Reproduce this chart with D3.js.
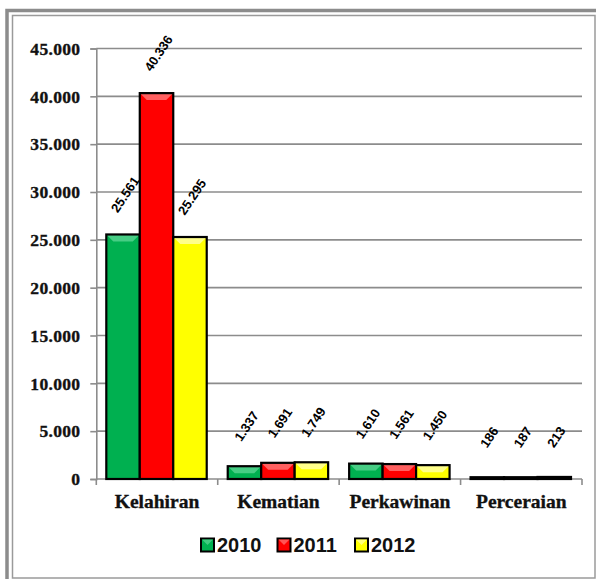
<!DOCTYPE html>
<html><head><meta charset="utf-8">
<script src="https://cdn.jsdelivr.net/npm/d3@7"></script>
<style>body{margin:0;background:#fff}svg{display:block}</style>
</head><body>
<svg id="c" width="596" height="579"></svg>
<script>
const categories = ["Kelahiran","Kematian","Perkawinan","Perceraian"];
const years = ["2010","2011","2012"];
const values2010 = [25561,1337,1610,186];
const values2011 = [40336,1691,1561,187];
const values2012 = [25295,1749,1450,213];
const yTicks = [0,5000,10000,15000,20000,25000,30000,35000,40000,45000];
const colors = ["#00B050","#FF0000","#FFFF00"];
const bevel = ["#4FD08A","#FF6A6A","#FFFF9A"];

const series = [values2010, values2011, values2012];
const svg = d3.select("#c");
const fmt = v => d3.format(",")(v).replace(/,/g,".");

// frame
svg.append("rect").attr("x",7).attr("y",10.5).attr("width",600).attr("height",600)
  .attr("fill","none").attr("stroke","#8c8c8c").attr("stroke-width",3.5);
svg.append("rect").attr("x",12.5).attr("y",15.5).attr("width",582.5).attr("height",562.5)
  .attr("fill","none").attr("stroke","#9a9a9a").attr("stroke-width",1.5);

const L=96.3, R=582, T=48.5, B=479;
const x = d3.scaleBand().domain(categories).range([L,R]).padding(0);
const xs = d3.scaleBand().domain(years).range([10, x.bandwidth()-11]).padding(0);
const y = d3.scaleLinear().domain([0,45000]).range([B,T]);

// gridlines
svg.append("g").selectAll("line").data(yTicks.filter(d=>d>0)).join("line")
  .attr("x1",L).attr("x2",R).attr("y1",d=>y(d)).attr("y2",d=>y(d))
  .attr("stroke","#8c8c8c").attr("stroke-width",1.6);

// y axis
const ya = svg.append("g").attr("transform",`translate(${L},0)`)
  .call(d3.axisLeft(y).tickValues(yTicks).tickSize(6).tickPadding(10).tickFormat(fmt));
ya.select(".domain").attr("stroke","#8c8c8c").attr("stroke-width",1.6);
ya.selectAll(".tick line").attr("stroke","#8c8c8c").attr("stroke-width",1.6);
ya.selectAll(".tick text").attr("font-family","'Liberation Serif',serif").attr("font-weight","bold")
  .attr("font-size","17.5px").attr("fill","#111").attr("dy","0.33em").attr("letter-spacing","0.3px")
  .attr("stroke","#111").attr("stroke-width",0.35);

// x axis
const xa = svg.append("g").attr("transform",`translate(0,${B})`)
  .call(d3.axisBottom(x).tickSize(0).tickPadding(0));
xa.select(".domain").remove();
svg.append("line").attr("x1",L).attr("x2",R).attr("y1",B).attr("y2",B)
  .attr("stroke","#8c8c8c").attr("stroke-width",1.6);
svg.append("g").selectAll("line").data(categories).join("line")
  .attr("x1",d=>x(d)).attr("x2",d=>x(d)).attr("y1",B).attr("y2",B+6)
  .attr("stroke","#8c8c8c").attr("stroke-width",1.6);
svg.append("line").attr("x1",R).attr("x2",R).attr("y1",B).attr("y2",B+6)
  .attr("stroke","#8c8c8c").attr("stroke-width",1.6);
xa.selectAll(".tick text").attr("y",29).attr("dy",0)
  .attr("font-family","'Liberation Serif',serif").attr("font-weight","bold")
  .attr("font-size","19.5px").attr("fill","#111").attr("stroke","#111").attr("stroke-width",0.35);

// bars
const gb = svg.append("g");
series.forEach((vals,si)=>{
  vals.forEach((v,ci)=>{
    const x0 = x(categories[ci]) + xs(years[si]);
    const w = xs.bandwidth();
    const top = y(v);
    const h = B - top;
    const g = gb.append("g");
    g.append("rect").attr("x",x0).attr("y",top).attr("width",w).attr("height",h).attr("fill",colors[si]);
    const bh = Math.min(7, h);
    if (h > 2) {
      g.append("path").attr("d",`M${x0},${top}L${x0+w},${top}L${x0+w-bh},${top+bh}L${x0+bh},${top+bh}Z`)
        .attr("fill",bevel[si]).attr("opacity",0.9);
    }
    g.append("rect").attr("x",x0).attr("y",top).attr("width",w).attr("height",h)
      .attr("fill","none").attr("stroke","#000").attr("stroke-width",2.2);
    // label
    const cx = x0 + w/2 + 2;
    const cy = top - 40;
    g.append("text").attr("transform",`translate(${cx},${cy}) rotate(-56)`)
      .attr("text-anchor","middle").attr("dy","0.35em")
      .attr("font-family","'Liberation Sans',sans-serif").attr("font-weight","bold")
      .attr("font-size","13px").attr("fill","#000")
      .text(fmt(v));
  });
});

// legend
const legX = [201, 277.5, 355];
const lg = svg.append("g");
years.forEach((yr,i)=>{
  lg.append("rect").attr("x",legX[i]).attr("y",538.5).attr("width",13).attr("height",13)
    .attr("fill",colors[i]).attr("stroke","#000").attr("stroke-width",2);
  lg.append("path").attr("d",`M${legX[i]+1},${539.5}L${legX[i]+12},${539.5}L${legX[i]+6.5},${545}Z`)
    .attr("fill",bevel[i]).attr("opacity",0.8);
  lg.append("text").attr("x",legX[i]+16).attr("y",551.7)
    .attr("font-family","'Liberation Sans',sans-serif").attr("font-weight","bold")
    .attr("font-size","20px").attr("fill","#111").text(yr);
});
</script>
</body></html>
